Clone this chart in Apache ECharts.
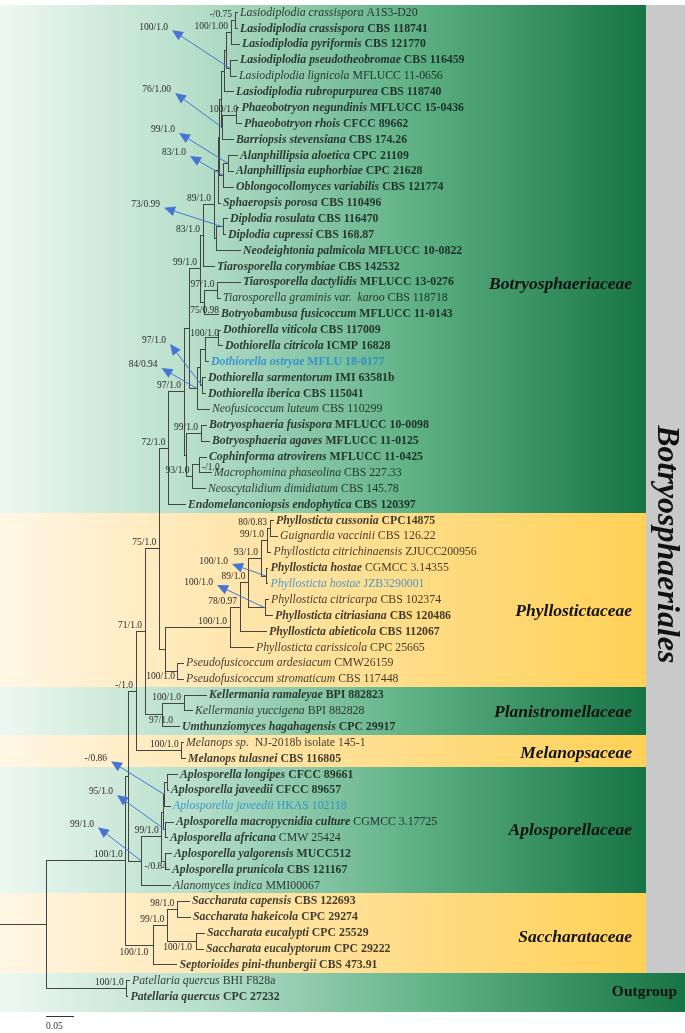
<!DOCTYPE html>
<html><head><meta charset="utf-8">
<script src="https://cdn.jsdelivr.net/npm/echarts@6/dist/echarts.min.js"></script>
<style>html,body{margin:0;padding:0;background:#fff}#c{width:685px;height:1033px}</style>
</head><body><div id="c"></div>
<script>
// ---------------- DATA ----------------
const taxa = [
 'Lasiodiplodia crassispora','Lasiodiplodia crassispora','Lasiodiplodia pyriformis','Lasiodiplodia pseudotheobromae',
 'Lasiodiplodia lignicola','Lasiodiplodia rubropurpurea','Phaeobotryon negundinis','Phaeobotryon rhois',
 'Barriopsis stevensiana','Alanphillipsia aloetica','Alanphillipsia euphorbiae','Oblongocollomyces variabilis',
 'Sphaeropsis porosa','Diplodia rosulata','Diplodia cupressi','Neodeightonia palmicola',
 'Tiarosporella corymbiae','Tiarosporella dactylidis','Tiarosporella graminis var.  karoo','Botryobambusa fusicoccum',
 'Dothiorella viticola','Dothiorella citricola','Dothiorella ostryae','Dothiorella sarmentorum',
 'Dothiorella iberica','Neofusicoccum luteum','Botryosphaeria fusispora','Botryosphaeria agaves',
 'Cophinforma atrovirens','Macrophomina phaseolina','Neoscytalidium dimidiatum','Endomelanconiopsis endophytica',
 'Phyllosticta cussonia','Guignardia vaccinii','Phyllosticta citrichinaensis','Phyllosticta hostae',
 'Phyllosticta hostae','Phyllosticta citricarpa','Phyllosticta citriasiana','Phyllosticta abieticola',
 'Phyllosticta carissicola','Pseudofusicoccum ardesiacum','Pseudofusicoccum stromaticum','Kellermania ramaleyae',
 'Kellermania yuccigena','Umthunziomyces hagahagensis','Melanops sp.','Melanops tulasnei',
 'Aplosporella longipes','Aplosporella javeedii','Aplosporella javeedii','Aplosporella macropycnidia culture',
 'Aplosporella africana','Aplosporella yalgorensis','Aplosporella prunicola','Alanomyces indica',
 'Saccharata capensis','Saccharata hakeicola','Saccharata eucalypti','Saccharata eucalyptorum',
 'Septorioides pini-thunbergii','Patellaria quercus','Patellaria quercus'
];
const codes = [
 'A1S3-D20','CBS 118741','CBS 121770','CBS 116459','MFLUCC 11-0656','CBS 118740','MFLUCC 15-0436','CFCC 89662',
 'CBS 174.26','CPC 21109','CPC 21628','CBS 121774','CBS 110496','CBS 116470','CBS 168.87','MFLUCC 10-0822',
 'CBS 142532','MFLUCC 13-0276','CBS 118718','MFLUCC 11-0143','CBS 117009','ICMP 16828','MFLU 18-0177','IMI 63581b',
 'CBS 115041','CBS 110299','MFLUCC 10-0098','MFLUCC 11-0125','MFLUCC 11-0425','CBS 227.33','CBS 145.78','CBS 120397',
 'CPC14875','CBS 126.22','ZJUCC200956','CGMCC 3.14355','JZB3290001','CBS 102374','CBS 120486','CBS 112067',
 'CPC 25665','CMW26159','CBS 117448','BPI 882823','BPI 882828','CPC 29917',' NJ-2018b isolate 145-1','CBS 116805',
 'CFCC 89661','CFCC 89657','HKAS 102118','CGMCC 3.17725','CMW 25424','MUCC512','CBS 121167','MMI00067',
 'CBS 122693','CPC 29274','CPC 25529','CPC 29222','CBS 473.91','BHI F828a','CPC 27232'
];
// name/code weight: B bold, R regular, X blue bold, U blue regular
const fmt = [
 'RR','BB','BB','BB','RR','BB','BB','BB','BB','BB','BB','BB','BB','BB','BB','BB',
 'BB','BB','RR','BB','BB','BB','XX','BB','BB','RR','BB','BB','BB','RR','RR','BB',
 'BB','RR','RR','BR','UU','RR','BB','BB','RR','RR','RR','BB','RR','BB','RR','BB',
 'BB','BB','UU','BR','BR','BB','BB','RR','BB','BB','BB','BB','BB','RR','BB'
];
// tip depth of each leaf (0.05 subst./site = 28 units)
const tipDepth = [
 237,237,239,237,236,233,238.5,241,233,237,233,233,220,227,225,240,
 214,240,220,218,220,222,208,205,205,209,206,209,206,211,205,185,
 273,277,270.5,267.5,267.5,268,272,266,253,183,183,206,192,179,183,185,
 177,168,170,173,167,171,169,170,189,190,204,203,176.5,129,127.5
];
// internal nodes: [id, depth, children, support]
const nodes = [
 ['L1',235,[0,1],'-/0.75'], ['L2',231,['L1',2],'100/1.00'], ['L3',230,[3,4],'100/1.0'],
 ['L4',226,['L2','L3'],''], ['L5',224,['L4',5],''], ['P1',236.5,[6,7],'100/1.0'],
 ['P2',222.5,['P1',8],'76/1.00'], ['LP',221,['L5','P2'],''], ['A1n',228,[9,10],'99/1.0'],
 ['A2n',223,['A1n',11],'83/1.0'], ['LPA',219.5,['LP','A2n'],''], ['S1',218,['LPA',12],''],
 ['Dp',223,[13,14],'73/0.99'], ['DN',216,['Dp',15],''], ['S2',214,['S1','DN'],'89/1.0'],
 ['T1',203,['S2',16],'83/1.0'], ['T2',217.5,[17,18],'97/1.0'], ['T3',204,['T2',19],'75/0.98'],
 ['T4',200,['T1','T3'],'99/1.0'], ['Dv',218,[20,21],'100/1.0'], ['Dvo',205,['Dv',22],''],
 ['Ds',202,[23,24],'97/1.0'], ['D',200,['Dvo','Ds'],''], ['DN2',197,['D',25],'84/0.94'],
 ['Y',189,['T4','DN2'],''], ['Bo',201,[26,27],'99/1.0'], ['CM',199,[28,29],'-/1.0'],
 ['Z2',192.6,['CM',30],'93/1.0'], ['Z',186.9,['Bo','Z2'],''], ['X',184,['Y','Z'],'97/1.0'],
 ['BOT',168.5,['X',31],'72/1.0'],
 ['Ph1',270,[32,33],'80/0.83'], ['Ph2',267,['Ph1',34],'99/1.0'], ['Hh',266,[35,36],'100/1.0'],
 ['Ph3',261,['Ph2','Hh'],'93/1.0'], ['Hc',265,[37,38],'100/1.0'], ['Ph4',248.6,['Ph3','Hc'],'89/1.0'],
 ['Ph5',240,['Ph4',39],'78/0.97'], ['Ph6',230,['Ph5',40],'100/1.0'], ['Ps',177,[41,42],'100/1.0'],
 ['PHY',165.7,['Ph6','Ps'],''], ['N159',159.3,['BOT','PHY'],'75/1.0'],
 ['Ke',184,[43,44],'100/1.0'], ['PLA',162.3,['Ke',45],'97/1.0'], ['N145',145,['N159','PLA'],'71/1.0'],
 ['MEL',181.7,[46,47],'100/1.0'], ['N136',136,['N145','MEL'],'-/1.0'],
 ['A1a',167,[48,49],''], ['A1',164,['A1a',50],'-/0.86'], ['A2',165.5,[51,52],'95/1.0'],
 ['AA',163,['A1','A2'],''], ['AB',165,[53,54],'-/0.84'], ['AG',161.7,['AA','AB'],'99/1.0'],
 ['APL',141.7,['AG',55],'99/1.0'], ['N128',128.3,['N136','APL'],''],
 ['Sc1',177.3,[56,57],'98/1.0'], ['Sc2',196,[58,59],'100/1.0'], ['Sc3',167.3,['Sc1','Sc2'],'99/1.0'],
 ['SAC',153.3,['Sc3',60],'100/1.0'], ['BA',125.7,['N128','SAC'],'100/1.0'],
 ['OUT',126.7,[61,62],'100/1.0'], ['ROOT',46.7,['BA','OUT'],'']
];
const bandNames = ['Botryosphaeriaceae','Phyllostictaceae','Planistromellaceae','Melanopsaceae','Aplosporellaceae','Saccharataceae','Outgroup'];
const bandFirst = [0,32,43,46,48,56,61];
const bandLast  = [31,42,45,47,55,60,62];
const bandTone  = ['green','yellow','green','yellow','green','yellow','green'];
const orderName = 'Botryosphaeriales';
const orderFirst = 0, orderLast = 60;
const scaleBarLength = 28;   // = 0.05 substitutions per site
const scaleBarLabel = '0.05';

// ---------------- LAYOUT / STYLE ----------------
const W = 685, H = 1033;
const ROW_TOP = -0.794, ROW_BOTTOM = 64.29;
const BAND_RIGHT = 646, ORDER_LEFT = 646;
const OUT_EXTRA = 0.47;
const familyLabelRow = [17.1, 37.75, 44.1, 46.7, 51.55, 58.25, 61.7];
const orderLabelRow = 33.5;
const scaleRow = 63.22, scaleTextRow = 63.88, scaleStart = 46;
const SERIF = '"Liberation Serif","Times New Roman",serif';
const GREEN = [[0,'#eef8f3'],[0.3,'#b7dfca'],[0.65,'#5cb084'],[1,'#177444']];
const YELLOW = [[0,'#fff6e5'],[0.35,'#ffe6ae'],[1,'#ffd156']];
const BLUE_TXT = '#1f86d3', ARROW = '#4676d4', BRANCH = '#444444';
const labelShift = { T3:[15,8,'right'], CM:[3,3,'left'], PLA:[10.7,5.5,'right'], Ps:[-2,5.5,'right'],
  AB:[2,5,'right'], Sc2:[-4,6,'right'], SAC:[-5,7,'right'], P1:[1.5,-6,'right'], Dv:[1,-4,'right'] };
const arrowLabelAt = { L3:[-62,-41], P2:[-51.5,-37.7], A1n:[-53,-33.4], A2n:[-37,-22.3], Dp:[-63,-22],
  Ds:[-36,-44.6], DN2:[-39.5,-23.6], Hh:[-38,-15], Hc:[-52,-25.7], A1:[-57,-36], A2:[-52.5,-38], APL:[-47.7,-37] };

// ---------------- TREE BUILD ----------------
const nodeIndex = {};
nodes.forEach((n, i) => nodeIndex[n[0]] = i);
const nodeY = {};
const depthOf = r => typeof r === 'number' ? tipDepth[r] : nodes[nodeIndex[r]][1];
function yOf(r) {
  if (typeof r === 'number') return r;
  if (nodeY[r] !== undefined) return nodeY[r];
  const ys = nodes[nodeIndex[r]][2].map(yOf);
  return nodeY[r] = (Math.min(...ys) + Math.max(...ys)) / 2;
}
nodes.forEach(n => yOf(n[0]));
const segs = [];
nodes.forEach(n => {
  const ys = n[2].map(yOf);
  segs.push([n[1], Math.min(...ys), n[1], Math.max(...ys)]);
  n[2].forEach(c => segs.push([n[1], yOf(c), depthOf(c), yOf(c)]));
});
segs.push([0, nodeY.ROOT, depthOf('ROOT'), nodeY.ROOT]);

const supportData = [], arrowData = [];
nodes.forEach((n, i) => {
  if (!n[3]) return;
  supportData.push([n[1], nodeY[n[0]], i]);
  if (arrowLabelAt[n[0]]) arrowData.push([n[1], nodeY[n[0]], i]);
});
const crisp = v => Math.round(v - 0.5) + 0.5;

// ---------------- CHART ----------------
const chart = echarts.init(document.getElementById('c'), null, {width: W, height: H});
const grad = (tone) => new echarts.graphic.LinearGradient(0, 0, 1, 0,
  (tone === 'green' ? GREEN : YELLOW).map(s => ({offset: s[0], color: s[1]})));

const richBase = {fontFamily: SERIF, fontSize: 11.8, color: '#111'};
const rich = {
  nB: Object.assign({}, richBase, {fontStyle: 'italic', fontWeight: 'bold'}),
  nR: Object.assign({}, richBase, {fontStyle: 'italic', fontWeight: 'normal'}),
  cB: Object.assign({}, richBase, {fontWeight: 'bold'}),
  cR: Object.assign({}, richBase, {fontWeight: 'normal'}),
  nX: Object.assign({}, richBase, {fontStyle: 'italic', fontWeight: 'bold', color: BLUE_TXT}),
  cX: Object.assign({}, richBase, {fontWeight: 'bold', color: BLUE_TXT}),
  nU: Object.assign({}, richBase, {fontStyle: 'italic', fontWeight: 'normal', color: BLUE_TXT}),
  cU: Object.assign({}, richBase, {fontWeight: 'normal', color: BLUE_TXT})
};

const option = {
  animation: false,
  grid: {left: 0, right: 0, top: 0, bottom: 0},
  xAxis: {type: 'value', min: 0, max: W, show: false},
  yAxis: {type: 'value', min: ROW_TOP, max: ROW_BOTTOM, inverse: true, show: false},
  series: [
    { // family bands
      type: 'custom', silent: true, z: 1, clip: false,
      data: bandNames.map((b, i) => [bandFirst[i], bandLast[i], i]),
      renderItem: (p, api) => {
        const i = api.value(2);
        const inOrder = bandLast[i] <= orderLast;
        const right = inOrder ? BAND_RIGHT : W;
        const extra = i === bandNames.length - 1 ? OUT_EXTRA : 0;
        const a = api.coord([0, api.value(0) - 0.5]);
        const b = api.coord([right, api.value(1) + 0.5 + extra]);
        return {type: 'rect', shape: {x: a[0], y: Math.round(a[1]), width: b[0] - a[0], height: Math.round(b[1]) - Math.round(a[1])},
          style: {fill: grad(bandTone[i])}};
      }
    },
    { // order band
      type: 'custom', silent: true, z: 1, clip: false,
      data: [[orderFirst, orderLast]],
      renderItem: (p, api) => {
        const a = api.coord([ORDER_LEFT, api.value(0) - 0.5]);
        const b = api.coord([W, api.value(1) + 0.5]);
        const c = api.coord([(ORDER_LEFT + W) / 2 + 0.5, orderLabelRow]);
        return {type: 'group', children: [
          {type: 'rect', shape: {x: a[0], y: Math.round(a[1]), width: b[0] - a[0], height: Math.round(b[1]) - Math.round(a[1])}, style: {fill: '#c9c9c9'}},
          {type: 'text', x: c[0], y: c[1], rotation: -Math.PI / 2,
            style: {text: orderName, textAlign: 'center', textVerticalAlign: 'middle', fill: '#111',
              font: 'italic bold 32px ' + SERIF}}
        ]};
      }
    },
    { // branches
      type: 'custom', silent: true, z: 3, clip: false,
      data: segs,
      renderItem: (p, api) => {
        const a = api.coord([api.value(0), api.value(1)]);
        const b = api.coord([api.value(2), api.value(3)]);
        return {type: 'line', shape: {x1: crisp(a[0]), y1: crisp(a[1]), x2: crisp(b[0]), y2: crisp(b[1])},
          style: {stroke: BRANCH, lineWidth: 1, lineCap: 'square'}};
      }
    },
    { // arrows
      type: 'custom', silent: true, z: 4, clip: false,
      data: arrowData,
      renderItem: (p, api) => {
        const n = nodes[api.value(2)];
        const o = arrowLabelAt[n[0]];
        const s = api.coord([api.value(0), api.value(1)]);
        const h = [s[0] + o[0] + 4, s[1] + o[1] + 3];
        const dx = h[0] - s[0], dy = h[1] - s[1], len = Math.hypot(dx, dy);
        const ux = dx / len, uy = dy / len, L = 11, Wd = 5;
        const bx = h[0] - ux * L, by = h[1] - uy * L;
        return {type: 'group', children: [
          {type: 'line', shape: {x1: s[0], y1: s[1], x2: bx, y2: by}, style: {stroke: ARROW, lineWidth: 1}},
          {type: 'polygon', shape: {points: [h, [bx - uy * Wd, by + ux * Wd], [bx + uy * Wd, by - ux * Wd]]}, style: {fill: ARROW}}
        ]};
      }
    },
    { // support values
      type: 'custom', silent: true, z: 5, clip: false,
      data: supportData,
      renderItem: (p, api) => {
        const n = nodes[api.value(2)];
        const s = api.coord([api.value(0), api.value(1)]);
        let x, y, align = 'right';
        if (arrowLabelAt[n[0]]) { x = s[0] + arrowLabelAt[n[0]][0]; y = s[1] + arrowLabelAt[n[0]][1]; }
        else if (labelShift[n[0]]) { const t = labelShift[n[0]]; x = s[0] + t[0]; y = s[1] + t[1]; align = t[2]; }
        else { x = s[0] - 3; y = s[1] - 6; }
        return {type: 'text', x: x, y: y, style: {text: n[3], textAlign: align, textVerticalAlign: 'middle',
          fill: '#2b2b2b', font: '9.5px ' + SERIF}};
      }
    },
    { // tip labels
      type: 'scatter', silent: true, z: 6, symbolSize: 0,
      data: tipDepth.map((d, i) => [d, i]),
      label: {show: true, position: 'right', distance: 3,
        formatter: p => {
          const i = p.dataIndex, f = fmt[i];
          const nk = f === 'XX' ? 'nX' : f === 'UU' ? 'nU' : (f[0] === 'B' ? 'nB' : 'nR');
          const ck = f === 'XX' ? 'cX' : f === 'UU' ? 'cU' : (f[1] === 'B' ? 'cB' : 'cR');
          return '{' + nk + '|' + taxa[i] + '}{' + ck + '| ' + codes[i] + '}';
        },
        rich: rich}
    },
    { // family labels
      type: 'custom', silent: true, z: 6, clip: false,
      data: bandNames.map((b, i) => [i]),
      renderItem: (p, api) => {
        const i = api.value(0);
        const out = bandLast[i] > orderLast;
        const c = api.coord([out ? 677 : 632, familyLabelRow[i]]);
        return {type: 'text', x: c[0], y: c[1], style: {text: bandNames[i], textAlign: 'right', textVerticalAlign: 'middle',
          fill: '#111', font: (out ? 'bold 15.5px ' : 'italic bold 17.5px ') + SERIF}};
      }
    },
    { // scale bar
      type: 'custom', silent: true, z: 6, clip: false,
      data: [[scaleStart, scaleRow, scaleStart + scaleBarLength]],
      renderItem: (p, api) => {
        const a = api.coord([api.value(0), api.value(1)]);
        const b = api.coord([api.value(2), api.value(1)]);
        const t = api.coord([api.value(0), scaleTextRow]);
        return {type: 'group', children: [
          {type: 'line', shape: {x1: a[0], y1: crisp(a[1]), x2: b[0], y2: crisp(a[1])}, style: {stroke: '#333', lineWidth: 1}},
          {type: 'text', x: t[0], y: t[1], style: {text: scaleBarLabel, textAlign: 'left', textVerticalAlign: 'middle', fill: '#333', font: '9.5px ' + SERIF}}
        ]};
      }
    }
  ]
};
chart.setOption(option);
</script></body></html>
